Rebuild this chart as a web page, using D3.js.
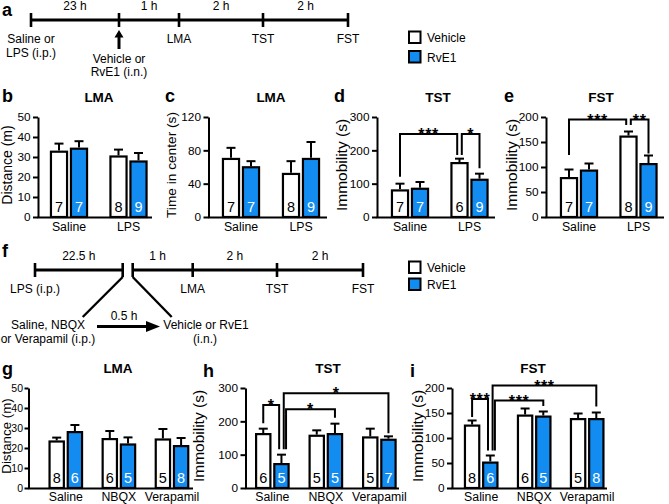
<!DOCTYPE html>
<html><head><meta charset="utf-8">
<script src="https://cdn.jsdelivr.net/npm/d3@7"></script>
<style>
html,body{margin:0;padding:0;background:#fff;}
svg{display:block;}
</style></head><body>
<svg id="fig" width="669" height="504"></svg>
<script>
// ---------------- DATA ----------------
const seriesNames = ["Vehicle", "RvE1"];
const groupsTop = ["Saline", "LPS"];
const groupsBottom = ["Saline", "NBQX", "Verapamil"];

// b: LMA distance (m)
const bVehicle = [33.2, 30.8], bVehicleErr = [3.5, 2.9], bVehicleN = [7, 8];
const bRvE1 = [34.7, 28.3], bRvE1Err = [3.2, 3.7], bRvE1N = [7, 9];
const bTicks = [0, 10, 20, 30, 40, 50];
// c: LMA time in center (s)
const cVehicle = [71, 53], cVehicleErr = [12, 14], cVehicleN = [7, 8];
const cRvE1 = [61, 71], cRvE1Err = [6, 19], cRvE1N = [7, 9];
const cTicks = [0, 40, 80, 120];
// d: TST immobility (s)
const dVehicle = [83, 165], dVehicleErr = [17, 10], dVehicleN = [7, 6];
const dRvE1 = [88, 115], dRvE1Err = [17, 15], dRvE1N = [7, 9];
const dTicks = [0, 100, 200, 300];
// e: FST immobility (s)
const eVehicle = [80, 163], eVehicleErr = [15, 8], eVehicleN = [7, 8];
const eRvE1 = [95, 108], eRvE1Err = [12, 15], eRvE1N = [7, 9];
const eTicks = [0, 50, 100, 150, 200];
// g: LMA distance (m)
const gVehicle = [23.8, 25, 24.8], gVehicleErr = [1.4, 3.5, 4.7], gVehicleN = [8, 6, 5];
const gRvE1 = [28.5, 22.3, 21.5], gRvE1Err = [3, 3, 3.5], gRvE1N = [6, 5, 8];
const gTicks = [0, 10, 20, 30, 40, 50];
// h: TST immobility (s)
const hVehicle = [165, 160, 155], hVehicleErr = [13, 13, 23], hVehicleN = [6, 5, 5];
const hRvE1 = [75, 165, 148], hRvE1Err = [25, 28, 7], hRvE1N = [5, 5, 7];
const hTicks = [0, 100, 200, 300];
// i: FST immobility (s)
const iVehicle = [127, 147, 140], iVehicleErr = [8, 12, 9], iVehicleN = [8, 6, 5];
const iRvE1 = [53, 145, 140], iRvE1Err = [12, 8, 11], iRvE1N = [6, 5, 8];
const iTicks = [0, 50, 100, 150, 200];

// significance brackets (levels in data units)
const dSig = [
  {from: ["Saline", "Vehicle"], to: ["LPS", "Vehicle"], level: 249, fromEnd: 121, toEnd: 186, label: "***", toSlot: -1},
  {from: ["LPS", "Vehicle"], to: ["LPS", "RvE1"], level: 249, fromEnd: 186, toEnd: 146, label: "*", fromSlot: 1}
];
const eSig = [
  {from: ["Saline", "Vehicle"], to: ["LPS", "Vehicle"], level: 195, fromEnd: 124, toEnd: 184, label: "***", toSlot: -1},
  {from: ["LPS", "Vehicle"], to: ["LPS", "RvE1"], level: 195, fromEnd: 184, toEnd: 127, label: "**", fromSlot: 1}
];
const hSig = [
  {from: ["Saline", "Vehicle"], to: ["Saline", "RvE1"], level: 249, fromEnd: 194, toEnd: 116, label: "*", toSlot: -1},
  {from: ["Saline", "RvE1"], to: ["Verapamil", "RvE1"], level: 284, fromEnd: 116, toEnd: 164, label: "*", fromSlot: 1},
  {from: ["Saline", "RvE1"], to: ["NBQX", "RvE1"], level: 236, fromEnd: 116, toEnd: 211, label: "*", fromSlot: 2}
];
const iSig = [
  {from: ["Saline", "Vehicle"], to: ["Saline", "RvE1"], level: 178, fromEnd: 142, toEnd: 75, label: "***", toSlot: -1},
  {from: ["Saline", "RvE1"], to: ["Verapamil", "RvE1"], level: 205, fromEnd: 75, toEnd: 163, label: "***", fromSlot: 1},
  {from: ["Saline", "RvE1"], to: ["NBQX", "RvE1"], level: 175, fromEnd: 75, toEnd: 164, label: "***", fromSlot: 2}
];

// timelines
const timeA = [0, 23, 24, 26, 28];
const timeASegments = [{t0: 0, t1: 23, label: "23 h"}, {t0: 23, t1: 24, label: "1 h"}, {t0: 24, t1: 26, label: "2 h"}, {t0: 26, t1: 28, label: "2 h"}];
const timeAEvents = [{t: 0, lines: ["Saline or", "LPS (i.p.)"]}, {t: 24, lines: ["LMA"]}, {t: 26, lines: ["TST"]}, {t: 28, lines: ["FST"]}];
const timeAArrow = {t: 23, lines: ["Vehicle or", "RvE1 (i.n.)"]};

const timeF = [0, 22.5, 23, 24, 26, 28];
const timeFSegments = [{t0: 0, t1: 22.5, label: "22.5 h"}, {t0: 22.5, t1: 24, label: "1 h"}, {t0: 24, t1: 26, label: "2 h"}, {t0: 26, t1: 28, label: "2 h"}];
const timeFEvents = [{t: 0, lines: ["LPS (i.p.)"]}, {t: 24, lines: ["LMA"]}, {t: 26, lines: ["TST"]}, {t: 28, lines: ["FST"]}];
const timeFDrawn = [[0, 22.5], [23, 28]];
const timeFLeftText = ["Saline, NBQX", "or Verapamil (i.p.)"];
const timeFRightText = ["Vehicle or RvE1", "(i.n.)"];
const timeFGap = "0.5 h";

// ---------------- DRAWING ----------------
const FONT = '"Liberation Sans", Arial, Helvetica, sans-serif';
const BLUE = "#128cf0";
const svg = d3.select("#fig").attr("font-family", FONT);
svg.append("rect").attr("width", 669).attr("height", 504).attr("fill", "#fff");

function txt(x, y, s, o = {}) {
  const t = svg.append("text").attr("x", x).attr("y", y).text(s)
    .attr("font-size", o.size || 12)
    .attr("text-anchor", o.anchor || "middle")
    .attr("fill", o.fill || "#000");
  if (o.bold) t.attr("font-weight", "bold");
  if (o.rotate) t.attr("transform", `rotate(-90,${x},${y})`);
  if (o.ls) t.attr("letter-spacing", o.ls);
  return t;
}

// panel letters
[["a", 2, 16], ["b", 2, 101.5], ["c", 165, 101.5], ["d", 334, 101.5], ["e", 504, 101.5],
 ["f", 2, 257], ["g", 2, 375], ["h", 203, 377], ["i", 410, 377]]
 .forEach(([l, x, y]) => txt(x, y, l, {size: 18, bold: true, anchor: "start"}));

// ----- timeline helper
function timeline(times, range, y, drawn, segments, events) {
  const x = d3.scaleLinear().domain(times).range(range);
  drawn.forEach(([a, b]) => svg.append("line").attr("x1", x(a)).attr("x2", x(b))
    .attr("y1", y).attr("y2", y).attr("stroke", "#000").attr("stroke-width", 3));
  times.forEach(t => svg.append("line").attr("x1", x(t)).attr("x2", x(t))
    .attr("y1", y - 7).attr("y2", y + 7).attr("stroke", "#000").attr("stroke-width", 2.6));
  segments.forEach(s => txt((x(s.t0) + x(s.t1)) / 2, y - 10, s.label));
  events.forEach(e => e.lines.forEach((l, k) => txt(x(e.t), y + 23 + k * 13.5, l)));
  return x;
}

// panel a timeline
const xa = timeline(timeA, [31, 119, 179, 263, 348], 20, [[0, 28]], timeASegments, timeAEvents);
{
  const ax = xa(timeAArrow.t);
  svg.append("line").attr("x1", ax).attr("x2", ax).attr("y1", 49).attr("y2", 36)
    .attr("stroke", "#000").attr("stroke-width", 3);
  svg.append("path").attr("d", `M${ax - 4.5},${37.5}L${ax},${30}L${ax + 4.5},${37.5}Z`).attr("fill", "#000");
  timeAArrow.lines.forEach((l, k) => txt(ax, 63 + k * 12.5, l));
}

// panel f timeline
const xf = timeline(timeF, [35, 122.7, 132.7, 192.7, 277, 363], 270, timeFDrawn, timeFSegments, timeFEvents);
{
  const xl = xf(22.5), xr = xf(23);
  svg.append("line").attr("x1", xl).attr("y1", 277).attr("x2", xl - 40).attr("y2", 317)
    .attr("stroke", "#000").attr("stroke-width", 2.4);
  svg.append("line").attr("x1", xr).attr("y1", 277).attr("x2", xr + 39).attr("y2", 317)
    .attr("stroke", "#000").attr("stroke-width", 2.4);
  timeFLeftText.forEach((l, k) => txt(48, 329 + k * 14, l));
  timeFRightText.forEach((l, k) => txt(206 - (k ? 1 : 0), 329 + k * 14, l));
  svg.append("line").attr("x1", 97).attr("x2", 148).attr("y1", 326.5).attr("y2", 326.5)
    .attr("stroke", "#000").attr("stroke-width", 3);
  svg.append("path").attr("d", "M146,321L160,326.5L146,332Z").attr("fill", "#000");
  txt(124, 320, timeFGap);
}

// legends
function legend(y0, dy) {
  seriesNames.forEach((s, k) => {
    svg.append("rect").attr("x", 409).attr("y", y0 + k * dy).attr("width", 11.5).attr("height", 11.5)
      .attr("fill", k ? BLUE : "#fff").attr("stroke", "#000").attr("stroke-width", 2);
    txt(427, y0 + k * dy + 10.5, s, {anchor: "start"});
  });
}
legend(31.5, 19.5);
legend(261.5, 17);

// ----- bar panel helper
function barPanel(p) {
  const y = d3.scaleLinear().domain([0, p.yMax]).range([p.yZero, p.yTop]);
  const x = d3.scaleBand().domain(p.groups).range(p.band).padding(0);
  const pairW = 2 * p.barW + p.gap;
  const xi = d3.scaleBand().domain(seriesNames).range([0, pairW])
    .paddingInner(p.gap / (p.barW + p.gap)).paddingOuter(0);
  const left = (g, s) => x(g) + x.bandwidth() / 2 - pairW / 2 + xi(s);
  const cx = (g, s) => left(g, s) + xi.bandwidth() / 2;
  const sw = 2.2;

  const rows = [];
  p.groups.forEach((g, i) => seriesNames.forEach((s, j) =>
    rows.push({g, s, j, v: p.vals[j][i], e: p.errs[j][i], n: p.ns[j][i]})));

  const G = svg.append("g");
  rows.forEach(d => {
    G.append("line").attr("x1", cx(d.g, d.s)).attr("x2", cx(d.g, d.s))
      .attr("y1", y(d.v)).attr("y2", y(d.v + d.e)).attr("stroke", "#000").attr("stroke-width", 2);
    G.append("line").attr("x1", cx(d.g, d.s) - p.cap / 2).attr("x2", cx(d.g, d.s) + p.cap / 2)
      .attr("y1", y(d.v + d.e)).attr("y2", y(d.v + d.e)).attr("stroke", "#000").attr("stroke-width", 2);
  });
  G.selectAll("rect.bar").data(rows).enter().append("rect").attr("class", "bar")
    .attr("x", d => left(d.g, d.s) + sw / 2)
    .attr("width", xi.bandwidth() - sw)
    .attr("y", d => y(d.v) + sw / 2)
    .attr("height", d => p.yZero - y(d.v) - sw / 2)
    .attr("fill", d => d.j ? BLUE : "#fff")
    .attr("stroke", "#000").attr("stroke-width", sw);
  rows.forEach(d => txt(cx(d.g, d.s), p.yZero - 5, d.n, {size: 14.5, fill: d.j ? "#fff" : "#000"}));

  const ax = svg.append("g").attr("transform", `translate(${p.axisX},0)`)
    .call(d3.axisLeft(y).tickValues(p.ticks).tickSize(p.tickLen || 5).tickSizeOuter(0).tickPadding(p.tickPad || 2.5));
  ax.attr("font-family", FONT).attr("font-size", p.tickFont || 11.8);
  ax.select(".domain").attr("stroke-width", 2);
  ax.selectAll(".tick line").attr("stroke-width", 2);
  ax.selectAll(".tick text").attr("fill", "#000");
  svg.append("line").attr("x1", p.axisX - 0.5).attr("x2", p.xEnd).attr("y1", p.yZero + 0.5).attr("y2", p.yZero + 0.5)
    .attr("stroke", "#000").attr("stroke-width", 2);
  p.groups.forEach(g => txt(x(g) + x.bandwidth() / 2, p.catY, g, {size: 12.3}));
  txt(p.titleX, p.titleY, p.title, {size: 13.5, bold: true});
  txt(p.yTitleX, (p.yZero + p.yTop) / 2 - 2, p.yTitle, {size: p.yTitleSize, rotate: true});

  (p.sig || []).forEach(s => {
    const slot = 2.3;
    const xa = cx(s.from[0], s.from[1]) + (s.fromSlot || 0) * slot;
    const xb = cx(s.to[0], s.to[1]) + (s.toSlot || 0) * slot;
    svg.append("path").attr("d", `M${xa},${y(s.fromEnd)}V${y(s.level)}H${xb}V${y(s.toEnd)}`)
      .attr("fill", "none").attr("stroke", "#000").attr("stroke-width", 2);
    txt((xa + xb) / 2, y(s.level) + 6, s.label, {size: 16, bold: true, ls: 0.6});
  });
}

const rowTop = {yTop: 117, yZero: 217, barW: 18.3, gap: 1.7, cap: 9, catY: 231, titleY: 101.5};
const rowBot = {yTop: 388, yZero: 488, barW: 16.5, gap: 1.7, cap: 9, catY: 501, titleY: 373};

barPanel({...rowTop, groups: groupsTop, yMax: 50, ticks: bTicks, axisX: 38, xEnd: 152, band: [39.25, 158.25],
  vals: [bVehicle, bRvE1], errs: [bVehicleErr, bRvE1Err], ns: [bVehicleN, bRvE1N],
  title: "LMA", titleX: 99, yTitle: "Distance (m)", yTitleX: 12, yTitleSize: 14});
barPanel({...rowTop, groups: groupsTop, yMax: 120, ticks: cTicks, axisX: 208.5, xEnd: 327, band: [211, 331],
  vals: [cVehicle, cRvE1], errs: [cVehicleErr, cRvE1Err], ns: [cVehicleN, cRvE1N],
  title: "LMA", titleX: 271, yTitle: "Time in center (s)", yTitleX: 176, yTitleSize: 13.7});
barPanel({...rowTop, groups: groupsTop, yMax: 300, ticks: dTicks, axisX: 377, xEnd: 495, band: [380.25, 499.25],
  vals: [dVehicle, dRvE1], errs: [dVehicleErr, dRvE1Err], ns: [dVehicleN, dRvE1N], sig: dSig,
  title: "TST", titleX: 438, yTitle: "Immobility (s)", yTitleX: 346.5, yTitleSize: 15.5});
barPanel({...rowTop, groups: groupsTop, yMax: 200, ticks: eTicks, axisX: 546, xEnd: 664, band: [549.25, 668.25],
  vals: [eVehicle, eRvE1], errs: [eVehicleErr, eRvE1Err], ns: [eVehicleN, eRvE1N], sig: eSig,
  title: "FST", titleX: 601, yTitle: "Immobility (s)", yTitleX: 517, yTitleSize: 15.5});
barPanel({...rowBot, groups: groupsBottom, yMax: 50, ticks: gTicks, axisX: 28.5, xEnd: 193, band: [39.25, 198.55],
  vals: [gVehicle, gRvE1], errs: [gVehicleErr, gRvE1Err], ns: [gVehicleN, gRvE1N],
  tickLen: 4, tickPad: 1.5, tickFont: 10.5,
  title: "LMA", titleX: 118, yTitle: "Distance (m)", yTitleX: 10.5, yTitleSize: 13.3});
barPanel({...rowBot, groups: groupsBottom, yMax: 300, ticks: hTicks, axisX: 245.5, xEnd: 399, band: [245.6, 406.1],
  vals: [hVehicle, hRvE1], errs: [hVehicleErr, hRvE1Err], ns: [hVehicleN, hRvE1N], sig: hSig,
  title: "TST", titleX: 328, yTitle: "Immobility (s)", yTitleX: 204, yTitleSize: 15.5});
barPanel({...rowBot, groups: groupsBottom, yMax: 200, ticks: iTicks, axisX: 452, xEnd: 607, band: [454.7, 613.7],
  vals: [iVehicle, iRvE1], errs: [iVehicleErr, iRvE1Err], ns: [iVehicleN, iRvE1N], sig: iSig,
  title: "FST", titleX: 533, yTitle: "Immobility (s)", yTitleX: 423, yTitleSize: 15.5});
</script>
</body></html>
